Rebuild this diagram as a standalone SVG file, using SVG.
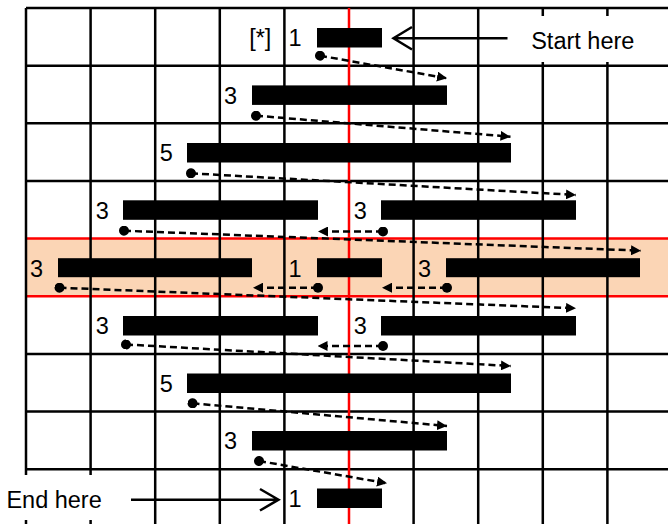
<svg xmlns="http://www.w3.org/2000/svg" width="668" height="524" viewBox="0 0 668 524">
<style>
.g{stroke:#000;stroke-width:2.5;fill:none}
.rl{stroke:#f00;stroke-width:2.5;fill:none}
.bar{fill:#000}
.t{font-family:"Liberation Sans",Arial,sans-serif;font-size:23.5px;fill:#000}
.c{stroke:#000;stroke-width:2.5;fill:none;stroke-dasharray:7 4;marker-start:url(#dot);marker-end:url(#tip)}
.oa{stroke:#000;stroke-width:2.5;fill:none}
</style>
<defs>
<marker id="tip" markerUnits="userSpaceOnUse" markerWidth="10" markerHeight="10" viewBox="0 0 10 10" refX="10" refY="5" orient="auto"><path d="M0,0 L10,5 L0,10 z" fill="#000"/></marker>
<marker id="dot" markerUnits="userSpaceOnUse" markerWidth="10" markerHeight="10" viewBox="0 0 10 10" refX="5" refY="5" orient="auto"><circle cx="5" cy="5" r="5" fill="#000"/></marker>
</defs>
<rect width="668" height="524" fill="#fff"/>
<g id="band">
<rect x="26" y="238.6" width="642" height="57.65" fill="#fbd5b5"/>
<path class="rl" d="M26,238.6H668M26,296.25H668"/>
</g>
<g id="grid">
<path class="g" d="M26,8V524M90.6,8V524M155.2,8V524M219.8,8V524M284.4,8V524M413.6,8V524M478.2,8V524M542.8,8V524M607.4,8V524"/>
<path class="g" d="M26,8H668M26,65.65H668M26,123.3H668M26,180.95H668M26,353.9H668M26,411.55H668M26,469.2H668"/>
<path class="rl" d="M349,8V524"/>
</g>
<rect x="515" y="16" width="140" height="46" fill="#fff"/>
<rect x="0" y="475" width="125" height="45" fill="#fff"/>
<g id="row0"><rect class="bar" x="317" y="28" width="65" height="19.5"/><text class="t" x="249.2" y="46">[*]</text><text class="t" x="288.5" y="46">1</text></g>
<g id="row1"><rect class="bar" x="252" y="85.4" width="195" height="19.5"/><text class="t" x="224" y="103.6">3</text></g>
<g id="row2"><rect class="bar" x="187" y="143" width="324" height="19.5"/><text class="t" x="159.7" y="161.3">5</text></g>
<g id="row3"><rect class="bar" x="123" y="200.3" width="195" height="19.5"/><rect class="bar" x="381" y="200.3" width="195" height="19.5"/><text class="t" x="95.7" y="218.9">3</text><text class="t" x="353.7" y="218.9">3</text></g>
<g id="row4"><rect class="bar" x="58" y="258.2" width="194" height="19"/><rect class="bar" x="317" y="258.2" width="65" height="19"/><rect class="bar" x="446" y="258.2" width="194" height="19"/><text class="t" x="30" y="276.6">3</text><text class="t" x="288.5" y="276.6">1</text><text class="t" x="418" y="276.6">3</text></g>
<g id="row5"><rect class="bar" x="123" y="316" width="195" height="19.5"/><rect class="bar" x="381" y="316" width="195" height="19.5"/><text class="t" x="95.7" y="334">3</text><text class="t" x="353.7" y="334">3</text></g>
<g id="row6"><rect class="bar" x="187" y="373.5" width="324" height="19.5"/><text class="t" x="159.7" y="391.5">5</text></g>
<g id="row7"><rect class="bar" x="252" y="431" width="195" height="19.5"/><text class="t" x="224" y="449">3</text></g>
<g id="row8"><rect class="bar" x="317" y="488.5" width="65" height="19.5"/><text class="t" x="288.5" y="506.5">1</text></g>
<g id="start"><text class="t" x="531.2" y="49">Start here</text><path class="oa" d="M507.5,38.3H394M412,27L393.5,38.3L412,49.5"/></g>
<g id="end"><text class="t" x="6.4" y="507.5">End here</text><path class="oa" d="M131,499.7H278M260,489L278.5,499.7L260,510.5"/></g>
<g id="connectors">
<path class="c" d="M320,55.7L447,78.3"/>
<path class="c" d="M256,115.7L510.5,136.7"/>
<path class="c" d="M191,173.3L576,195"/>
<path class="c" d="M383,231.5L318,231.5"/>
<path class="c" d="M124,230.7L641,250.7"/>
<path class="c" d="M447,287.7L382,287.7"/>
<path class="c" d="M318,287.7L253,287.7"/>
<path class="c" d="M59.5,287.7L576,308.3"/>
<path class="c" d="M383,346L317.5,346"/>
<path class="c" d="M126,344.5L511,366"/>
<path class="c" d="M192.5,403.3L447,426"/>
<path class="c" d="M259,461L387,483.3"/>
</g>
</svg>
